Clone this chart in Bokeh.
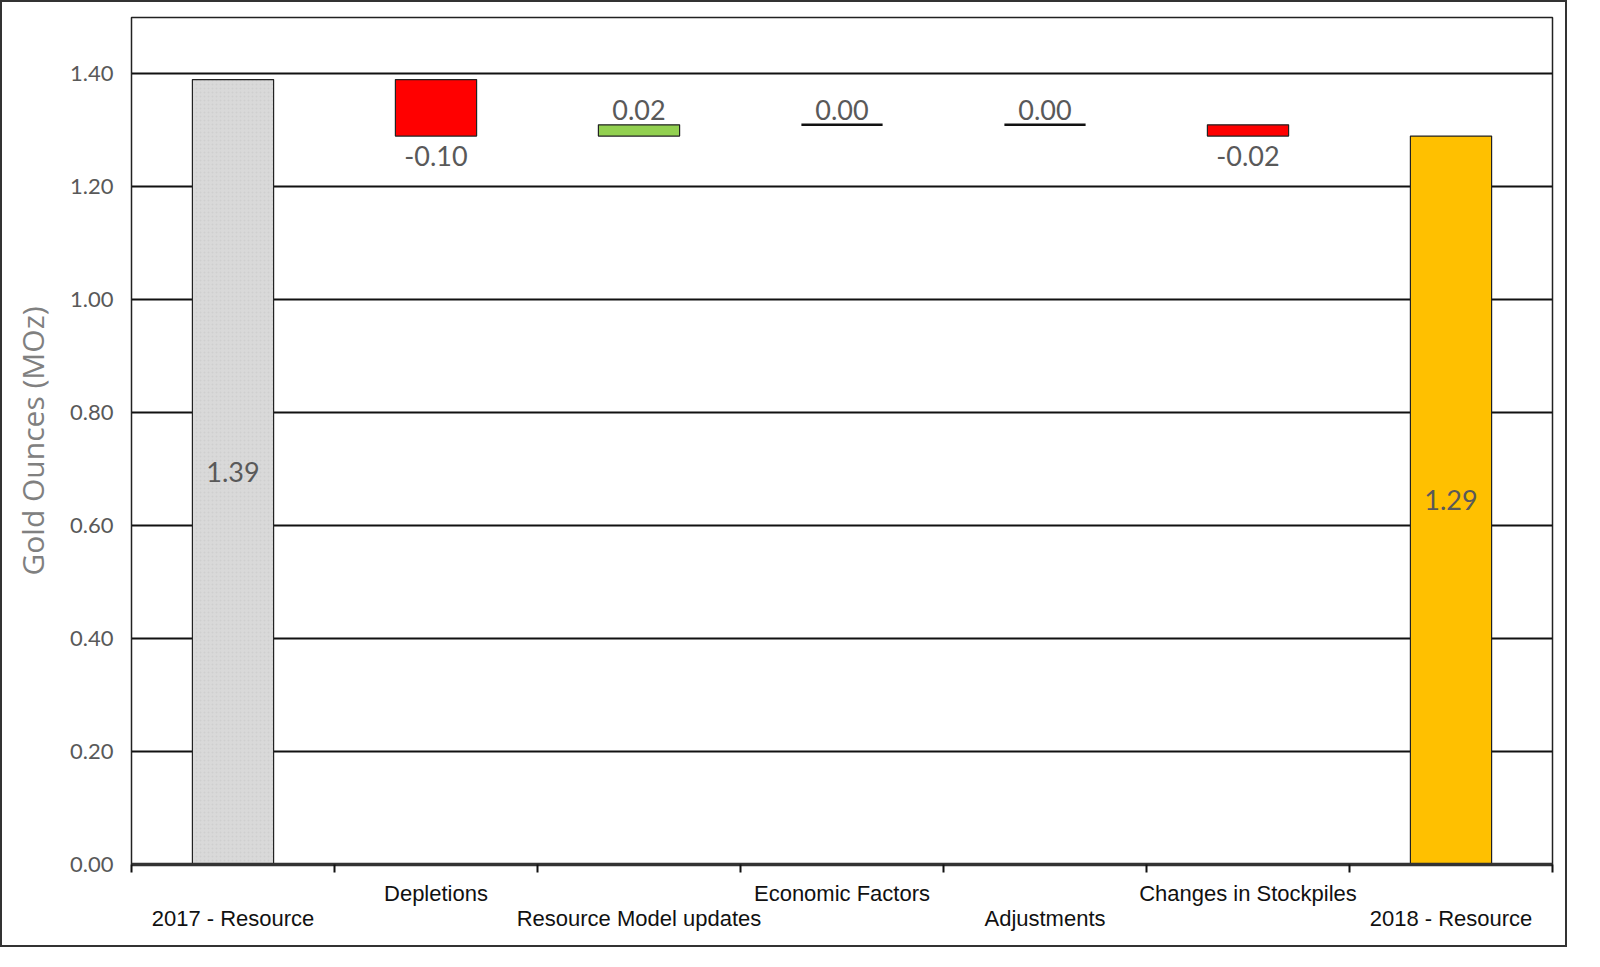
from bokeh.plotting import figure
from bokeh.models import Range1d, LinearAxis, FixedTicker, ColumnDataSource, PrintfTickFormatter
from bokeh.core.properties import value
from bokeh.embed import file_html
from bokeh.resources import INLINE

# ---------------- data ----------------
categories = ["2017 - Resource", "Depletions", "Resource Model updates",
              "Economic Factors", "Adjustments", "Changes in Stockpiles",
              "2018 - Resource"]
amounts = [1.39, -0.10, 0.02, 0.00, 0.00, -0.02, 1.29]
kinds = ["total", "delta", "delta", "delta", "delta", "delta", "total"]
y_ticks = [0.0, 0.2, 0.4, 0.6, 0.8, 1.0, 1.2, 1.4]
y_label = "Gold Ounces (MOz)"

# ---------------- styling ----------------
GRAY = "#d9d9d9"
GOLD = "#ffc000"
RED = "#ff0000"
GREEN = "#92d050"
TXT = "#595959"
NUM_FONT = "Lato"
CAT_FONT = "Liberation Sans"

# ---------------- waterfall geometry ----------------
xs, bottoms, tops, fills, hatch = [], [], [], [], []
zx, zy = [], []
lx, ly, ltxt, lbase, loff = [], [], [], [], []
running = 0.0
n_tot = 0
for i, (name, v, k) in enumerate(zip(categories, amounts, kinds)):
    x = i + 0.5
    if k == "total":
        b, t = 0.0, v
        running = v
        xs.append(x); bottoms.append(b); tops.append(t)
        fills.append(GRAY if n_tot == 0 else GOLD)
        hatch.append("." if n_tot == 0 else " ")
        n_tot += 1
        lx.append(x); ly.append((b + t) / 2); ltxt.append("%.2f" % v)
        lbase.append("middle"); loff.append(0)
    else:
        start = running
        running = round(running + v, 4)
        b, t = min(start, running), max(start, running)
        if v == 0:
            zx.append(x); zy.append(running)
            lx.append(x); ly.append(running); ltxt.append("%.2f" % v)
            lbase.append("bottom"); loff.append(-5)
        else:
            xs.append(x); bottoms.append(b); tops.append(t)
            fills.append(GREEN if v > 0 else RED)
            hatch.append(" ")
            lx.append(x)
            if v > 0:
                ly.append(t); lbase.append("bottom"); loff.append(-5)
            else:
                ly.append(b); lbase.append("top"); loff.append(10)
            ltxt.append("%.2f" % v)

bars = ColumnDataSource(dict(x=xs, bottom=bottoms, top=tops, color=fills, hatch=hatch))
zeros = ColumnDataSource(dict(x0=[x - 0.2 for x in zx], x1=[x + 0.2 for x in zx], y=zy))
labels = ColumnDataSource(dict(x=lx, y=ly, text=ltxt, base=lbase, off=loff))

# ---------------- figure ----------------
p = figure(width=1567, height=947,
           x_range=Range1d(0, len(categories)), y_range=Range1d(0, 1.5),
           x_axis_type=None, output_backend="svg", toolbar_location=None,
           min_border_left=129, min_border_right=17, min_border_top=15,
           min_border_bottom=85)
p.styles = {"border": "2px solid #333"}
p.outline_line_color = "#222"
p.outline_line_width = 1.5
p.background_fill_color = "white"
p.border_fill_color = "white"

# y axis
yax = p.yaxis[0]
yax.ticker = FixedTicker(ticks=y_ticks)
yax.formatter = PrintfTickFormatter(format="%.2f")
yax.major_tick_line_color = None
yax.minor_tick_line_color = None
yax.axis_line_color = "#222"
yax.major_label_text_font = NUM_FONT
yax.major_label_text_font_size = "22px"
yax.major_label_text_color = TXT
yax.major_label_standoff = 12
yax.axis_label = y_label
yax.axis_label_text_font = "Open Sans"
yax.axis_label_text_font_size = "30px"
yax.axis_label_text_font_style = "normal"
yax.axis_label_text_color = "#808080"
yax.axis_label_standoff = 14

p.ygrid.grid_line_color = "#111"
p.ygrid.grid_line_width = 1.8

# x axes (staggered labels)
odd_pos = [i + 0.5 for i in range(len(categories)) if i % 2 == 1]
even_pos = [i + 0.5 for i in range(len(categories)) if i % 2 == 0]
bounds = list(range(len(categories) + 1))

ax1 = LinearAxis(ticker=FixedTicker(ticks=odd_pos, minor_ticks=bounds))
ax1.major_label_overrides = {i + 0.5: c for i, c in enumerate(categories) if i % 2 == 1}
ax1.major_tick_line_color = None
ax1.major_tick_out = 0
ax1.major_tick_in = 0
ax1.minor_tick_line_color = "#111"
ax1.minor_tick_line_width = 2
ax1.minor_tick_out = 8
ax1.minor_tick_in = 0
ax1.axis_line_color = "#333"
ax1.axis_line_width = 3.5
ax1.major_label_text_font = CAT_FONT
ax1.major_label_text_font_size = "22px"
ax1.major_label_text_color = "#111"
ax1.major_label_standoff = 8

ax2 = LinearAxis(ticker=FixedTicker(ticks=even_pos))
ax2.major_label_overrides = {i + 0.5: c for i, c in enumerate(categories) if i % 2 == 0}
ax2.major_tick_line_color = None
ax2.minor_tick_line_color = None
ax2.axis_line_color = None
ax2.major_tick_out = 0
ax2.major_tick_in = 0
ax2.major_label_text_font = CAT_FONT
ax2.major_label_text_font_size = "22px"
ax2.major_label_text_color = "#111"
ax2.major_label_standoff = -3

p.add_layout(ax1, "below")
p.add_layout(ax2, "below")

# bars
p.vbar(x="x", bottom="bottom", top="top", width=0.4, source=bars,
       fill_color="color", line_color="#222", line_width=1.2,
       hatch_pattern="hatch", hatch_color="#bdbdbd", hatch_alpha=0.35,
       hatch_scale=4, hatch_weight=1)
p.segment(x0="x0", x1="x1", y0="y", y1="y", source=zeros,
          line_color="#111", line_width=2.5)

# value labels
p.text(x="x", y="y", text="text", source=labels, text_align="center",
       text_baseline="base", y_offset="off", text_font=value(NUM_FONT),
       text_font_size="27px", text_color=TXT)

open("out.html", "w").write(file_html(p, INLINE))
